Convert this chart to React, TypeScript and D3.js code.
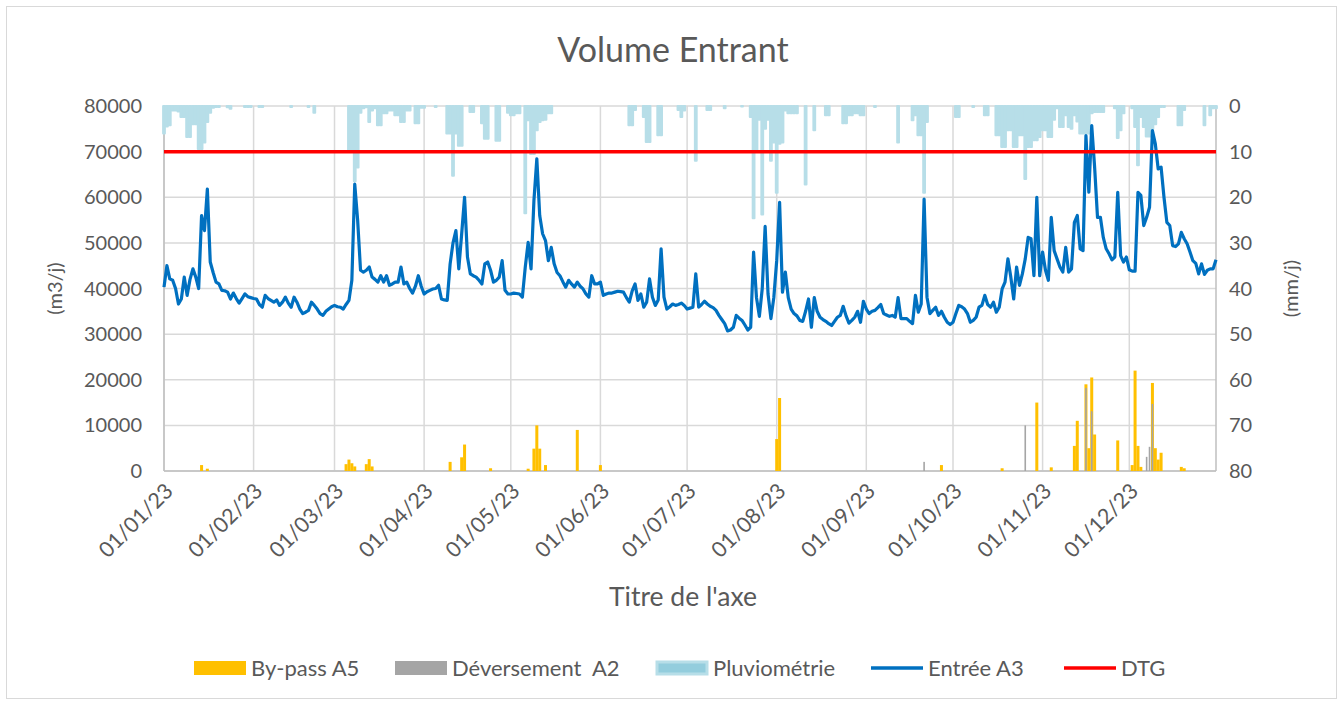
import React from 'react';
import * as d3 from 'd3';

// one value per day, 01/01/23 .. 31/12/23
const entreeA3 = [
  // janvier
  40300, 45000, 42100, 41800, 40000, 36600, 37700, 42500, 38500, 42000,
  44300, 42500, 40000, 56000, 52700, 61800, 45800, 43500, 41400, 41000,
  39600, 39500, 39200, 37700, 39000, 37800, 36800, 37800, 38800, 38200,
  38000,
  // fevrier
  37800, 37700, 36500, 35900, 38500, 37800, 37400, 37000, 37500, 36300,
  37000, 38100, 36800, 35900, 38100, 37000, 35500, 34500, 34800, 35200,
  37000, 36300, 35500, 34500, 34100, 35000, 35500, 36000,
  // mars
  36300, 36000, 35900, 35500, 36500, 37400, 41800, 62900, 55000, 44000,
  43600, 44000, 44700, 42500, 42000, 41400, 42800, 41400, 42800, 40700,
  41000, 41400, 41400, 44700, 41000, 41400, 40000, 39000, 40500, 42800,
  40500,
  // avril
  38800, 39300, 39600, 39900, 40000, 40700, 37700, 37500, 37400, 45400,
  50000, 52700, 44300, 52000, 60000, 46900, 43200, 42800, 42500, 41800,
  41000, 45400, 45800, 44000, 41400, 41800, 42500, 46100, 39600, 38800,
  // mai
  38800, 39000, 38900, 38800, 38100, 44700, 50100, 44300, 59300, 68400,
  56000, 52000, 50500, 46100, 49000, 45400, 43500, 42800, 41500, 40300,
  41800, 41000, 40300, 41400, 40500, 39900, 38800, 38100, 42800, 41000,
  41000,
  // juin
  41400, 38500, 38800, 39000, 39000, 39200, 39400, 39300, 39200, 38000,
  37000, 39500, 41000, 37400, 38800, 35900, 37000, 42100, 38100, 36300,
  37500, 48700, 38100, 35500, 36000, 36600, 36300, 36500, 36800, 36300,
  // juillet
  35500, 35700, 35900, 43200, 35900, 36500, 37200, 36600, 36100, 35800,
  35200, 34100, 33200, 32300, 30700, 30900, 31500, 34100, 33500, 33000,
  32000, 30900, 31500, 48000, 38000, 33900, 40000, 53600, 38800, 33400,
  38000,
  // aout
  46100, 58900, 39200, 43600, 38000, 35500, 34500, 34000, 33000, 32800,
  35000, 37700, 31500, 38000, 35000, 33700, 33200, 32800, 32300, 31900,
  32800, 33700, 34100, 36100, 34000, 32400, 33000, 33700, 35000, 32600,
  37200,
  // septembre
  35500, 34500, 35000, 35200, 35800, 36500, 34500, 34200, 33900, 34100,
  33700, 38000, 33400, 33400, 33400, 32800, 32300, 38500, 34800, 36600,
  59600, 38100, 34500, 35200, 35900, 34100, 35000, 33700, 32600, 32100,
  // octobre
  32600, 34500, 36300, 36000, 35500, 34500, 32600, 33000, 33700, 35900,
  36300, 38500, 36500, 35900, 37000, 34800, 35900, 39900, 41400, 46500,
  42500, 37700, 44700, 40700, 43200, 46500, 51200, 50900, 42800, 60000,
  42800,
  // novembre
  48000, 44000, 41800, 55600, 48300, 46500, 44700, 43600, 49000, 43600,
  44300, 54500, 56000, 48700, 48300, 73500, 61100, 75700, 66600, 55600,
  55600, 51200, 48700, 47600, 46300, 46900, 61100, 47200, 45800, 46900,
  // decembre
  44100, 43800, 43800, 61100, 60400, 53800, 55600, 57800, 74600, 71700,
  66200, 66600, 60000, 54500, 53800, 49400, 49200, 49800, 52300, 50900,
  49800, 48000, 46100, 45500, 43200, 45400, 43100, 44000, 44300, 44300,
  46300,
];

// mm/j, one value per day
const pluviometrie = [
  6, 4.5, 4.2, 1, 1, 1.2, 2.4, 2.4, 6.8, 6.8, 4, 4, 9.4, 9.4, 8, 3.5, 1.5, 0.4, 0.2, 0.2, 0, 0, 0.3, 0.6, 0, 0, 0, 0, 0.2, 0.2, 0.2,
  0, 0, 0.2, 0.2, 0, 0, 0, 0, 0, 0, 0, 0, 0, 0.2, 0, 0, 0, 0, 0, 0.2, 0, 1.5, 0, 0, 0, 0, 0, 0,
  0, 0, 0, 0, 0, 10, 10, 16.5, 13.5, 1.5, 0.5, 0.3, 3.5, 1, 0.5, 4.2, 4.2, 1.6, 1.6, 1, 1, 2, 2, 3.5, 3.5, 1, 1, 0, 3.8, 3.8, 0.4,
  0.4, 0, 0, 0, 0.2, 0, 0, 0, 6, 6, 15.3, 6, 8.7, 8.7, 0, 0, 1.3, 1.3, 0, 0, 3.8, 7.2, 7.2, 0, 0, 7.6, 7.6, 0, 0, 1.5,
  2, 2, 1.6, 1.6, 0, 23.5, 3.1, 10.5, 10.5, 5.3, 3.5, 3.1, 3, 1.6, 1.6, 0, 0, 0, 0, 0, 0, 0, 0, 0, 0, 0, 0, 0, 0, 0, 0,
  0, 0, 0, 0, 0, 0, 0, 0, 0, 0, 4.2, 4.2, 0.9, 0, 0, 2.4, 7.9, 7.9, 0, 0, 6.4, 6.4, 0, 0, 0, 0, 0, 0.9, 2.4, 1,
  0, 0, 0, 12, 0, 0, 0, 0.9, 0.9, 0, 0, 0, 0, 0.5, 0, 0, 0, 0, 0, 0.1, 0, 0, 2.4, 24.6, 10, 3, 23.8, 5, 3, 12, 8,
  19, 8.3, 8, 1, 1.6, 1.6, 1.6, 1.6, 0, 0, 17.2, 0, 0, 5.3, 0, 0, 0, 2, 2, 0, 0, 0, 0, 3.8, 3.8, 2, 2, 1.6, 1.6, 2, 2,
  0, 0, 0, 0.2, 0, 0, 0, 0, 0, 0, 0, 8, 0, 0, 0, 0, 3.1, 2, 6.4, 6.4, 19, 3.5, 0, 0, 0, 0, 0, 0, 0, 0,
  0, 2.4, 2.4, 0, 0, 0, 0, 0.2, 0, 0, 0, 2, 2, 0, 0, 6.4, 6.4, 9, 9, 5.3, 5.3, 9, 9, 6.4, 6.4, 16, 9, 9, 7.5, 7.5, 6.8,
  5.3, 5.3, 6.8, 6.8, 3, 0.5, 4.6, 4.6, 2, 4.6, 5, 2, 3.4, 6, 6, 6, 6, 1.6, 1.3, 1.3, 1.3, 1.3, 0, 0, 0, 0.5, 7, 5.3, 1.6, 0,
  0, 0.5, 4.6, 13, 2.4, 4.6, 6.7, 6.7, 5, 4, 2.4, 0.2, 0.2, 0, 0, 0, 0, 4.2, 4.2, 0.9, 0, 0, 0, 0, 0, 0, 4.2, 0, 2, 0.5, 0.5,
];

// [jour de l'annee (0 = 01/01/23), m3/j]
const bypassA5: [number, number][] = [
  [13, 1300], [15, 500], [63, 1500], [64, 2500], [65, 1700], [66, 1000], [70, 1500], [71, 2600], [72, 1000],
  [99, 2000], [103, 3000], [104, 5800], [113, 600], [126, 500], [128, 4900], [129, 10000], [130, 4900],
  [132, 1300], [143, 9000], [151, 1300], [212, 7000], [213, 16000], [269, 1300], [290, 600], [302, 15000],
  [307, 800], [315, 5500], [316, 11000], [319, 19000], [320, 5000], [321, 20500], [322, 8000], [330, 6700],
  [335, 1300], [336, 22000], [337, 5500], [338, 900], [342, 19300], [343, 5000], [344, 2500], [345, 4000],
  [352, 900], [353, 600],
];

const deversementA2: [number, number][] = [
  [263, 2000], [298, 10000], [319, 18200], [321, 13100], [340, 3100], [341, 5300], [342, 14700],
];

const dtg = 70000;

const monthLabels = [
  '01/01/23', '01/02/23', '01/03/23', '01/04/23', '01/05/23', '01/06/23',
  '01/07/23', '01/08/23', '01/09/23', '01/10/23', '01/11/23', '01/12/23',
];
const leftTicks = [0, 10000, 20000, 30000, 40000, 50000, 60000, 70000, 80000];
const rightTicks = [0, 10, 20, 30, 40, 50, 60, 70, 80];

const legendItems = [
  { label: 'By-pass A5', kind: 'rect', color: '#ffc000', x: 194 },
  { label: 'Déversement  A2', kind: 'rect', color: '#a5a5a5', x: 395 },
  { label: 'Pluviométrie', kind: 'rain', color: '#b7dee8', x: 656 },
  { label: 'Entrée A3', kind: 'line', color: '#0070c0', x: 871 },
  { label: 'DTG', kind: 'line', color: '#ff0000', x: 1064 },
];

const W = 1343;
const H = 702;
const L = 164, R = 1216, T = 106, B = 471;
const FONT = 'Lato, "Open Sans", sans-serif';
const TXT = '#595959';
const RAIN = '#b7dee8';

const parse = d3.utcParse('%d/%m/%y');
const start = parse(monthLabels[0]) as Date;
const dates = entreeA3.map((_, i) => d3.utcDay.offset(start, i));
const monthDates = monthLabels.map(s => parse(s) as Date);

const x = d3.scaleUtc().domain([dates[0], dates[dates.length - 1]]).range([L, R]);
const yL = d3.scaleLinear().domain([0, 80000]).range([B, T]);
const yR = d3.scaleLinear().domain([0, 80]).range([T, B]);

const line = d3.line<number>()
  .x((_, i) => x(dates[i]))
  .y(v => yL(v));

const App = () => {
  const day = (i: number) => x(d3.utcDay.offset(start, i));

  return (
    <div style={{ position: 'absolute', left: 0, top: 0 }}>
      <svg width={W} height={H} style={{ display: 'block', background: '#fff' }} fontFamily={FONT}>
        <rect x={6.5} y={6.5} width={1330} height={692} fill="#fff" stroke="#d9d9d9" />

        <text x={673} y={62} textAnchor="middle" fontSize={34} fill={TXT}>Volume Entrant</text>

        {/* grid */}
        {leftTicks.map(t => (
          <line key={'h' + t} x1={L} x2={R} y1={yL(t)} y2={yL(t)} stroke="#d9d9d9" strokeWidth={1.5} />
        ))}
        {monthDates.map((d, i) => (
          <line key={'v' + i} x1={x(d)} x2={x(d)} y1={T} y2={B} stroke="#d9d9d9" strokeWidth={1.5} />
        ))}
        <line x1={L} x2={L} y1={T} y2={B} stroke="#bfbfbf" strokeWidth={1.5} />
        <line x1={R} x2={R} y1={T} y2={B} stroke="#bfbfbf" strokeWidth={1.5} />
        <line x1={L} x2={R} y1={B} y2={B} stroke="#bfbfbf" strokeWidth={1.5} />

        {/* pluviometrie (axe secondaire inverse) */}
        <g fill={RAIN} stroke={RAIN} strokeWidth={2} strokeLinejoin="round">
          {pluviometrie.map((v, i) => v > 0 ? (
            <rect key={'p' + i} x={day(i) - 0.9} width={1.8} y={yR(0)} height={Math.max(0.01, yR(v) - yR(0))} />
          ) : null)}
        </g>

        {/* by-pass et deversement */}
        {bypassA5.map(([d, v]) => (
          <rect key={'b' + d} x={day(d) - 1.5} width={3} y={yL(v)} height={yL(0) - yL(v)} fill="#ffc000" />
        ))}
        {deversementA2.map(([d, v]) => (
          <rect key={'g' + d} x={day(d) - 0.8} width={1.6} y={yL(v)} height={yL(0) - yL(v)} fill="#a5a5a5" />
        ))}

        <path d={line(entreeA3) ?? ''} fill="none" stroke="#0070c0" strokeWidth={3.2} strokeLinejoin="round" />
        <line x1={L} x2={R} y1={yL(dtg)} y2={yL(dtg)} stroke="#ff0000" strokeWidth={3.5} />

        {/* axes */}
        {leftTicks.map(t => (
          <text key={'lt' + t} x={142} y={yL(t)} dy="0.35em" textAnchor="end" fontSize={20} fill={TXT}>{t}</text>
        ))}
        {rightTicks.map(t => (
          <text key={'rt' + t} x={1229} y={yR(t)} dy="0.35em" textAnchor="start" fontSize={20} fill={TXT}>{t}</text>
        ))}
        {monthDates.map((d, i) => (
          <text key={'xl' + i} transform={`translate(${x(d) + 5},${B + 16}) rotate(-45)`} textAnchor="end"
            dy="0.35em" fontSize={21.5} fill={TXT}>{monthLabels[i]}</text>
        ))}
        <text transform={`translate(62,${(T + B) / 2}) rotate(-90)`} textAnchor="middle" fontSize={20} fill={TXT}>(m3/j)</text>
        <text transform={`translate(1298,${(T + B) / 2}) rotate(-90)`} textAnchor="middle" fontSize={20} fill={TXT}>(mm/j)</text>
        <text x={683} y={606} textAnchor="middle" fontSize={26.5} fill={TXT}>Titre de l'axe</text>

        {/* legende */}
        {legendItems.map(it => (
          <g key={it.label} transform={`translate(${it.x},668)`}>
            {it.kind === 'rect' && <rect x={0} y={-7} width={52} height={14} fill={it.color} />}
            {it.kind === 'rain' && <rect x={1} y={-6} width={50} height={12} fill="#93cddd" stroke={it.color} strokeWidth={3} />}
            {it.kind === 'line' && <line x1={0} x2={52} y1={0} y2={0} stroke={it.color} strokeWidth={3.5} />}
            <text x={57} y={0} dy="0.35em" fontSize={22} fill={TXT} style={{ whiteSpace: 'pre' }}>{it.label}</text>
          </g>
        ))}
      </svg>
    </div>
  );
};

export default App;
